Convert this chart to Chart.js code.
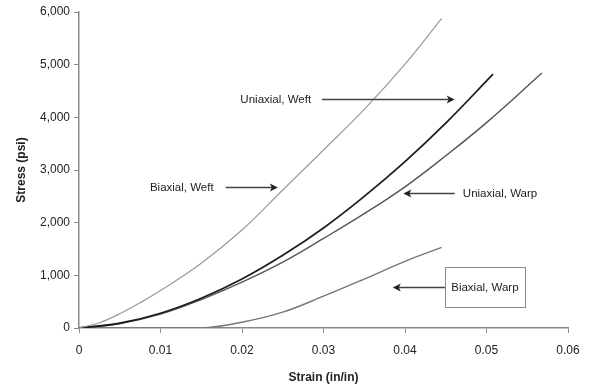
<!DOCTYPE html>
<html>
<head>
<meta charset="utf-8">
<script src="https://cdn.jsdelivr.net/npm/chart.js@4/dist/chart.umd.min.js"></script>
<style>
  html, body { margin: 0; padding: 0; background: #fff; }
  #wrap { width: 592px; height: 389px; }
</style>
</head>
<body>
<div id="wrap"><canvas id="stressChart" width="592" height="389"></canvas></div>
<script>
// values (strain in in/in, stress in psi)
const biaxWeftStrain = [0, 0.0025, 0.005, 0.0075, 0.01, 0.015, 0.02, 0.025, 0.03, 0.035, 0.04, 0.0445];
const biaxWeftStress = [0, 100, 270, 480, 710, 1230, 1860, 2620, 3380, 4150, 5010, 5880];

const uniWeftStrain = [0, 0.005, 0.01, 0.015, 0.02, 0.025, 0.03, 0.035, 0.04, 0.045, 0.0508];
const uniWeftStress = [0, 90, 280, 565, 930, 1380, 1900, 2500, 3160, 3890, 4820];

const uniWarpStrain = [0, 0.005, 0.01, 0.015, 0.02, 0.025, 0.03, 0.035, 0.04, 0.045, 0.05, 0.0568];
const uniWarpStress = [0, 85, 265, 540, 870, 1250, 1700, 2170, 2680, 3270, 3900, 4840];

const biaxWarpStrain = [0, 0.015, 0.02, 0.025, 0.03, 0.035, 0.04, 0.0445];
const biaxWarpStress = [0, 0, 110, 300, 605, 930, 1265, 1530];

const xTickLabels = ['0', '0.01', '0.02', '0.03', '0.04', '0.05', '0.06'];
const yTickLabels = ['0', '1,000', '2,000', '3,000', '4,000', '5,000', '6,000'];

const noteTexts = ['Uniaxial, Weft', 'Biaxial, Weft', 'Uniaxial, Warp', 'Biaxial, Warp'];

const pts = (xs, ys) => xs.map((x, i) => ({ x: x, y: ys[i] }));

// callout placement in data units
const notes = [
  { text: noteTexts[0], tx: 0.0198, ty: 4345, from: 0.0298, to: 0.0461 },
  { text: noteTexts[1], tx: 0.0087, ty: 2675, from: 0.0180, to: 0.0244 },
  { text: noteTexts[2], tx: 0.0471, ty: 2560, from: 0.0461, to: 0.0398 },
  { text: noteTexts[3], box: [0.0449, 0.0547, 1157, 398], ty: 778, from: 0.0449, to: 0.0385 }
];

const calloutPlugin = {
  id: 'callouts',
  afterDatasetsDraw(chart) {
    const ctx = chart.ctx, xs = chart.scales.x, ys = chart.scales.y;
    ctx.save();
    ctx.font = '11.5px "Liberation Sans", Arial, sans-serif';
    ctx.textBaseline = 'middle';
    notes.forEach(n => {
      const y = Math.round(ys.getPixelForValue(n.ty)) + 0.5;
      if (n.box) {
        const l = xs.getPixelForValue(n.box[0]), r = xs.getPixelForValue(n.box[1]);
        const t = ys.getPixelForValue(n.box[2]), b = ys.getPixelForValue(n.box[3]);
        ctx.fillStyle = '#fff';
        ctx.fillRect(l, t, r - l, b - t);
        ctx.strokeStyle = '#8a8a8a'; ctx.lineWidth = 1;
        ctx.strokeRect(Math.round(l) + 0.5, Math.round(t) + 0.5, Math.round(r - l), Math.round(b - t));
        ctx.fillStyle = '#222'; ctx.textAlign = 'center';
        ctx.fillText(n.text, (l + r) / 2, y);
      } else {
        ctx.fillStyle = '#222'; ctx.textAlign = 'left';
        ctx.fillText(n.text, xs.getPixelForValue(n.tx), y);
      }
      const x1 = xs.getPixelForValue(n.from), x2 = xs.getPixelForValue(n.to);
      const dir = x2 > x1 ? 1 : -1;
      ctx.strokeStyle = '#444'; ctx.lineWidth = 1.5;
      ctx.beginPath(); ctx.moveTo(x1, y); ctx.lineTo(x2 - dir * 4, y); ctx.stroke();
      ctx.fillStyle = '#222';
      ctx.beginPath();
      ctx.moveTo(x2, y); ctx.lineTo(x2 - dir * 8, y - 4); ctx.lineTo(x2 - dir * 6, y); ctx.lineTo(x2 - dir * 8, y + 4);
      ctx.closePath(); ctx.fill();
    });
    ctx.restore();
  }
};

const tickFont = { family: '"Liberation Sans", Arial, sans-serif', size: 12 };
const titleFont = { family: '"Liberation Sans", Arial, sans-serif', size: 12, weight: 'bold' };

new Chart(document.getElementById('stressChart').getContext('2d'), {
  type: 'line',
  data: {
    datasets: [
      { label: 'Biaxial, Weft', data: pts(biaxWeftStrain, biaxWeftStress), borderColor: '#9a9a9a', borderWidth: 1.2 },
      { label: 'Uniaxial, Weft', data: pts(uniWeftStrain, uniWeftStress), borderColor: '#1e1e1e', borderWidth: 1.8 },
      { label: 'Uniaxial, Warp', data: pts(uniWarpStrain, uniWarpStress), borderColor: '#555', borderWidth: 1.4 },
      { label: 'Biaxial, Warp', data: pts(biaxWarpStrain, biaxWarpStress), borderColor: '#777', borderWidth: 1.4 }
    ]
  },
  options: {
    responsive: false,
    animation: false,
    layout: { padding: { left: 0, right: 24, top: 12, bottom: 0 } },
    elements: { point: { radius: 0 }, line: { tension: 0.4, fill: false } },
    plugins: { legend: { display: false }, tooltip: { enabled: false } },
    scales: {
      x: {
        type: 'linear', min: 0, max: 0.06,
        afterFit: (s) => { s.height = 61; },
        border: { color: '#8a8a8a', width: 1.5 },
        grid: { drawOnChartArea: false, drawTicks: true, tickLength: 5, color: '#8a8a8a' },
        ticks: { stepSize: 0.01, padding: 10, color: '#222', font: tickFont, maxRotation: 0,
                 callback: (v, i) => xTickLabels[i] },
        title: { display: true, text: 'Strain (in/in)', color: '#222', font: titleFont, padding: { top: 4, bottom: 4 } }
      },
      y: {
        type: 'linear', min: 0, max: 6000,
        afterFit: (s) => { s.width = 79; },
        border: { color: '#8a8a8a', width: 1.5 },
        grid: { drawOnChartArea: false, drawTicks: true, tickLength: 5, color: '#8a8a8a' },
        ticks: { stepSize: 1000, padding: 4, color: '#222', font: tickFont,
                 callback: (v, i) => yTickLabels[i] },
        title: { display: true, text: 'Stress (psi)', color: '#222', font: titleFont, padding: { top: 14, bottom: 0 } }
      }
    }
  },
  plugins: [calloutPlugin]
});
</script>
</body>
</html>
